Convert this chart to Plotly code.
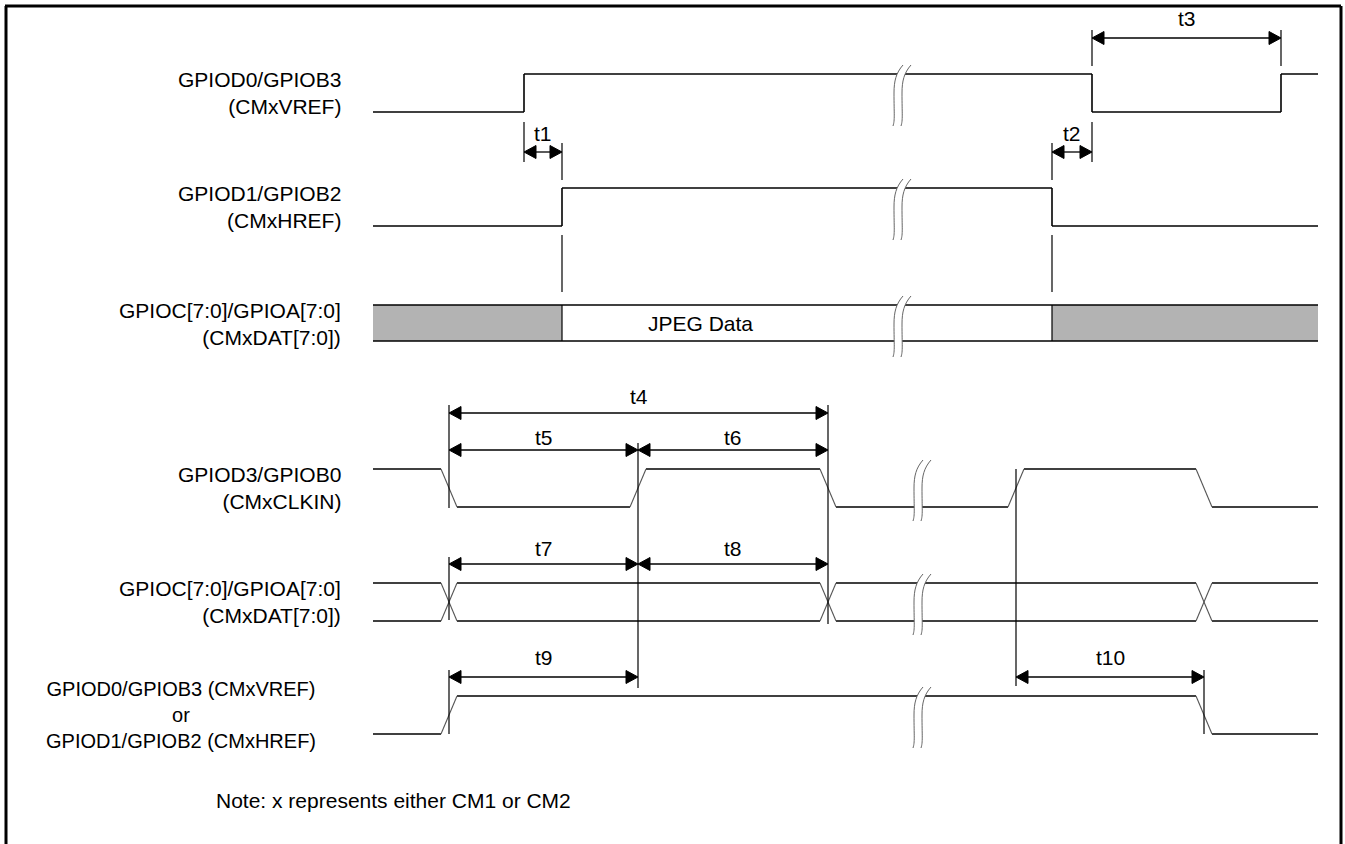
import plotly.graph_objects as go

# ---- timing data (time axis in diagram units) ----
T_START, T_END = 373, 1318

VREF_EDGES = [524, 1092, 1281]           # CMxVREF, starts low
HREF_EDGES = [562, 1052]                 # CMxHREF, starts low
JPEG_WINDOW = [562, 1052]                # valid JPEG data on the bus
CLK_EDGES = [449, 638, 828, 1016, 1204]  # CMxCLKIN, starts high
BUS_CROSSINGS = [449, 828, 1204]         # CMxDAT changes
SYNC_EDGES = [449, 1204]                 # VREF/HREF vs clock, starts low
SLEW = 16

# timing parameters: name, from, to
T_NAMES = ["t1", "t2", "t3", "t4", "t5", "t6", "t7", "t8", "t9", "t10"]
T_FROM = [524, 1052, 1092, 449, 449, 638, 449, 638, 449, 1016]
T_TO = [562, 1092, 1281, 828, 638, 828, 638, 828, 638, 1204]

SIGNAL_LABELS = [
    ["GPIOD0/GPIOB3", "(CMxVREF)"],
    ["GPIOD1/GPIOB2", "(CMxHREF)"],
    ["GPIOC[7:0]/GPIOA[7:0]", "(CMxDAT[7:0])"],
    ["GPIOD3/GPIOB0", "(CMxCLKIN)"],
    ["GPIOC[7:0]/GPIOA[7:0]", "(CMxDAT[7:0])"],
    ["GPIOD0/GPIOB3 (CMxVREF)", "or", "GPIOD1/GPIOB2 (CMxHREF)"],
]
NOTE = "Note: x represents either CM1 or CM2"

# ---- layout (page positions) ----
ROW_HIGH = [74, 188, 305, 469, 583, 696]
AMP = 38
ARROW_Y = [152, 152, 38, 413, 450, 450, 564, 564, 677, 677]
ARROW_LABEL_Y = [133, 133, 18, 396, 437, 437, 548, 548, 657, 657]
BREAK_X = [894, 894, 894, 914, 914, 914]
# extension lines (x, y from, y to)
EXT = [(524, 122, 162), (562, 143, 180), (562, 235, 292), (1052, 143, 180),
       (1052, 235, 292), (1092, 122, 162), (1092, 30, 66), (1281, 30, 66),
       (449, 405, 508), (449, 557, 620), (449, 670, 734), (638, 443, 688),
       (828, 405, 624), (1016, 469, 686), (1204, 670, 734)]
FONT = "Liberation Sans, Arial, sans-serif"
FS = 21


def wave(edges, start, slew):
    lvl, x = start, T_START
    fx, fy, sx, sy = [], [], [], []
    for e in edges:
        a, b = e - slew / 2, e + slew / 2
        fx += [x, a, None]
        fy += [lvl, lvl, None]
        sx += [a, b, None]
        sy += [lvl, 1 - lvl, None]
        lvl, x = 1 - lvl, b
    fx += [x, T_END]
    fy += [lvl, lvl]
    return fx, fy, sx, sy


def to_y(levels, row):
    return [None if v is None else ROW_HIGH[row] + (1 - v) * AMP for v in levels]


fig = go.Figure()


def add_line(x, y, color="black", width=1.6):
    fig.add_trace(go.Scatter(x=x, y=y, mode="lines", hoverinfo="skip",
                             line=dict(color=color, width=width)))


def add_wave(edges, start, slew, row):
    fx, fy, sx, sy = wave(edges, start, slew)
    add_line(fx, to_y(fy, row))
    if slew:
        add_line(sx, to_y(sy, row), color="#555555", width=1.1)
    else:
        add_line(sx, to_y(sy, row))


add_wave(VREF_EDGES, 0, 0, 0)
add_wave(HREF_EDGES, 0, 0, 1)

# data bus with JPEG window
top, bot = ROW_HIGH[2], ROW_HIGH[2] + AMP - 2
gx = [T_START, JPEG_WINDOW[0], JPEG_WINDOW[0], T_START, T_START, None,
      JPEG_WINDOW[1], T_END, T_END, JPEG_WINDOW[1], JPEG_WINDOW[1]]
gy = [top, top, bot, bot, top, None, top, top, bot, bot, top]
fig.add_trace(go.Scatter(x=gx, y=gy, mode="lines", fill="toself",
                         fillcolor="#b3b3b3", line=dict(width=0), hoverinfo="skip"))
add_line([T_START, T_END, None, T_START, T_END], [top, top, None, bot, bot])
add_line([JPEG_WINDOW[0], JPEG_WINDOW[0], None, JPEG_WINDOW[1], JPEG_WINDOW[1]],
         [top, bot, None, top, bot], width=1.2)

add_wave(CLK_EDGES, 1, SLEW, 3)
add_wave(BUS_CROSSINGS, 1, SLEW, 4)
add_wave(BUS_CROSSINGS, 0, SLEW, 4)
add_wave(SYNC_EDGES, 0, SLEW, 5)

# extension lines
ex, ey = [], []
for x, y0, y1 in EXT:
    ex += [x, x, None]
    ey += [y0, y1, None]
add_line(ex, ey, width=1.2)

# dimension arrows
HEAD_L, HEAD_W = 12, 6.5
ax, ay, hx, hy = [], [], [], []
for a, b, y in zip(T_FROM, T_TO, ARROW_Y):
    ax += [a + 4, b - 4, None]
    ay += [y, y, None]
    hx += [a, a + HEAD_L, a + HEAD_L, a, None, b, b - HEAD_L, b - HEAD_L, b, None]
    hy += [y, y - HEAD_W, y + HEAD_W, y, None, y, y - HEAD_W, y + HEAD_W, y, None]
add_line(ax, ay, width=1.3)
fig.add_trace(go.Scatter(x=hx, y=hy, mode="lines", fill="toself", fillcolor="black",
                         line=dict(color="black", width=1), hoverinfo="skip"))

for name, a, b, ly in zip(T_NAMES, T_FROM, T_TO, ARROW_LABEL_Y):
    fig.add_annotation(x=(a + b) / 2, y=ly, text=name, showarrow=False,
                       font=dict(family=FONT, size=FS, color="black"))

fig.add_annotation(x=700, y=(top + bot) / 2, text="JPEG Data", showarrow=False,
                   font=dict(family=FONT, size=FS, color="black"))

# signal labels (one multi-line text per signal)
for row, lines in enumerate(SIGNAL_LABELS):
    mid = ROW_HIGH[row] + AMP / 2
    if len(lines) == 3:
        fig.add_annotation(x=181, y=mid, text="<br>".join(lines), showarrow=False,
                           xanchor="center", yanchor="middle", align="center",
                           font=dict(family=FONT, size=FS - 1, color="black"))
    else:
        fig.add_annotation(x=343, y=mid, text="<br>".join(lines), showarrow=False,
                           xanchor="right", yanchor="middle", align="right",
                           font=dict(family=FONT, size=FS, color="black"))

fig.add_annotation(x=214, y=800, text=NOTE, showarrow=False, xanchor="left",
                   font=dict(family=FONT, size=FS, color="black"))

# break symbols
shapes = []
for row, xc in enumerate(BREAK_X):
    yt, yb = ROW_HIGH[row] - 9, ROW_HIGH[row] + AMP + 14
    d = 8
    p = [(xc + 9, yt), (xc + 2, yt + 8), (xc, yt + 16), (xc, yt + 28),
         (xc, yb - 12), (xc + 1, yb - 6), (xc - 1, yb)]
    q = [(px + d, py) for px, py in p]
    f = lambda pt: f"{pt[0]},{pt[1]}"
    fill = (f"M {f(p[0])} C {f(p[1])} {f(p[2])} {f(p[3])} C {f(p[4])} {f(p[5])} {f(p[6])} "
            f"L {f(q[6])} C {f(q[5])} {f(q[4])} {f(q[3])} C {f(q[2])} {f(q[1])} {f(q[0])} Z")
    shapes.append(dict(type="path", path=fill, xref="x", yref="y",
                       fillcolor="white", line=dict(width=0)))
    for c in (p, q):
        path = f"M {f(c[0])} C {f(c[1])} {f(c[2])} {f(c[3])} C {f(c[4])} {f(c[5])} {f(c[6])}"
        shapes.append(dict(type="path", path=path, xref="x", yref="y",
                           line=dict(color="#666666", width=1)))

# frame (top, left, right)
for x0, y0, x1, y1 in [(5, 6, 1341, 6), (6, 6, 6, 844), (1341, 6, 1341, 844)]:
    shapes.append(dict(type="line", x0=x0, y0=y0, x1=x1, y1=y1, xref="x", yref="y",
                       line=dict(color="black", width=3)))

fig.update_layout(
    shapes=shapes,
    width=1345, height=844,
    showlegend=False,
    margin=dict(l=0, r=0, t=0, b=0),
    paper_bgcolor="white", plot_bgcolor="white",
    xaxis=dict(range=[0, 1345], visible=False, fixedrange=True),
    yaxis=dict(range=[844, 0], visible=False, fixedrange=True),
)
# page body margin off so the figure sits at the window origin
fig.write_html("out.html", config={"displayModeBar": False},
               post_script="document.body.style.margin='0px';")
